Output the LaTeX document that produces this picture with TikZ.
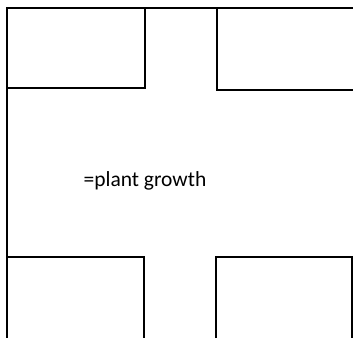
\documentclass[tikz,border=0pt]{standalone}
\usepackage{fontspec}
\setmainfont{Carlito}
\usetikzlibrary{positioning}

\begin{document}
\begin{tikzpicture}[x=1pt,y=-1pt,line width=2pt]
  \useasboundingbox (0,0) rectangle (353,338);
  % plots and paths
  \draw (7,8) rectangle (145,88);
  \draw (7,8) -- (353,8);
  \draw (7,8) -- (7,338);
  \draw (353,90) -- (217,90) -- (217,8);
  \draw (7,257) -- (144,257) -- (144,338);
  \draw (216,338) -- (216,257) -- (352,257) -- (352,338);
  \node[font=\fontsize{21.5}{24}\selectfont] (growth) at (145,181) {=plant growth};
\end{tikzpicture}
\end{document}
